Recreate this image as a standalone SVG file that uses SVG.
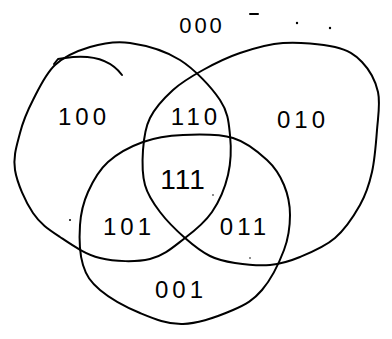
<svg xmlns="http://www.w3.org/2000/svg" width="392" height="339" viewBox="0 0 392 339">
<style>
.c{fill:none;stroke:#000;stroke-width:2;stroke-linecap:round;stroke-linejoin:round}
.t{font-family:"Liberation Sans",Arial,sans-serif;font-size:24px;fill:#000;text-anchor:middle;letter-spacing:4px}
.d{fill:#000}
</style>
<rect width="392" height="339" fill="#fff"/>
<g id="setA">
<path class="c" d="M130,43 C145,45.2 165,50.5 180,60 S211.7,87.5 220,100 S228.7,122.5 230,135 S231,162.2 228,175 S219.2,201.5 212,212 S195.3,230.2 185,238 S164.2,255.7 150,259 S115,261.7 100,258 S71.2,244.5 60,237 S40.5,224.2 33,213 S17.2,183.3 15,170 S17,144.7 20,133 S27.2,111.3 33,100 S45.5,73.8 55,65 S77.5,50.7 90,47 S115,40.8 130,43 Z"/>
<path class="c" d="M54,64 L58,59 L65,58 Q105,52 122,75"/>
</g>
<g id="setB">
<path class="c" d="M283,43 C298.8,42 321.8,43.8 335,47 S354.8,54.5 362,62 S375.5,80.7 378,92 S378,116.7 377,130 S374.8,159.5 372,172 S366.2,194 360,205 S345,229.3 335,238 S310.8,252.5 300,257 S280.8,264 270,265 S245,264.5 235,263 S218.3,260.2 210,256 S193.3,245.3 185,238 S166.7,220.8 160,212 S147.8,195.3 145,185 S142.2,161.2 143,150 S145,128 150,118 S164.2,98 173,90 S191.8,76.2 203,70 S226.7,57.5 240,53 S267.2,44 283,43 Z"/>
</g>
<g id="setC">
<path class="c" d="M183,135 C198,134.3 219,133.8 233,138 S258.5,152.2 267,160 S280.2,175.8 284,185 S290,204.2 290,215 S288.7,237.5 284,250 S270.5,280 262,290 S246.2,304.3 233,310 S198.5,323.5 183,324 S153.8,318.7 140,313 S109.5,298 100,290 S86.3,275.8 83,265 S79.2,237.2 80,225 S83.3,202.5 88,192 S98.8,170.3 108,162 S130.5,146.5 143,142 S168,135.7 183,135 Z"/>
</g>
<g id="marks">
<line class="c" x1="250" y1="14" x2="258" y2="14"/>
<circle class="d" cx="297" cy="23" r="1.2"/>
<circle class="d" cx="330" cy="28" r="1.2"/>
<circle class="d" cx="70" cy="220" r="1"/>
<circle class="d" cx="213" cy="195" r="0.8"/>
<circle class="d" cx="250" cy="258" r="0.8"/>
</g>
<g id="labels">
<g id="r000"><text class="t" x="202" y="33" style="font-size:22px;letter-spacing:3px">000</text></g>
<g id="r100"><text class="t" x="84" y="125">100</text></g>
<g id="r110"><text class="t" x="196" y="125">110</text></g>
<g id="r010"><text class="t" x="303" y="128">010</text></g>
<g id="r111"><text class="t" x="183" y="189" style="font-size:28px;letter-spacing:1px">111</text></g>
<g id="r101"><text class="t" x="129" y="235">101</text></g>
<g id="r011"><text class="t" x="245" y="235">011</text></g>
<g id="r001"><text class="t" x="181" y="298">001</text></g>
</g>
</svg>
